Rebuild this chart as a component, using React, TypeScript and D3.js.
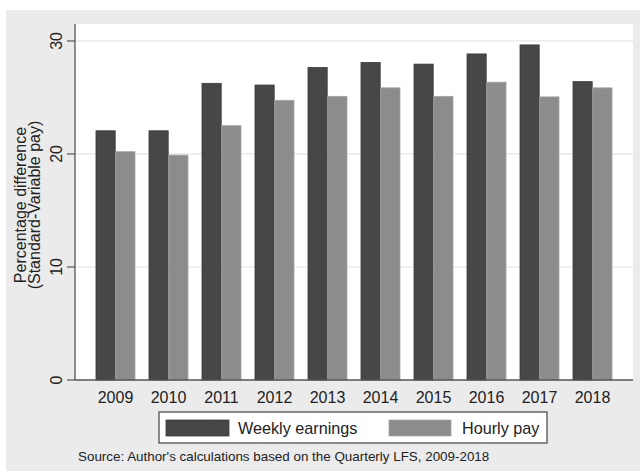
import React from "react";
import * as d3 from "d3";

const years = ["2009", "2010", "2011", "2012", "2013", "2014", "2015", "2016", "2017", "2018"];
const weeklyEarnings = [22.05, 22.05, 26.25, 26.1, 27.65, 28.1, 27.95, 28.85, 29.65, 26.4];
const hourlyPay = [20.2, 19.9, 22.5, 24.75, 25.1, 25.85, 25.1, 26.35, 25.05, 25.85];
const seriesNames = ["Weekly earnings", "Hourly pay"];
const yTicks = [0, 10, 20, 30];

const W = 640;
const H = 471;
const plot = { left: 75, right: 633, top: 24, bottom: 380 };
const font = "'Liberation Sans', Arial, sans-serif";
const darkFill = "#474747";
const lightFill = "#8c8c8c";

export default function App() {
  const x = d3
    .scaleBand<string>()
    .domain(years)
    .range([plot.left, plot.right])
    .paddingInner(0.264)
    .paddingOuter(0.396);
  const inner = d3.scaleBand<string>().domain(seriesNames).range([0, x.bandwidth()]).paddingInner(0.03);
  const y = d3.scaleLinear().domain([0, 31.5]).range([plot.bottom, plot.top]);

  const series = [
    { name: seriesNames[0], values: weeklyEarnings, fill: darkFill, stroke: "#3a3a3a" },
    { name: seriesNames[1], values: hourlyPay, fill: lightFill, stroke: "#a4a4a4" },
  ];

  return (
    <svg width={W} height={H} style={{ position: "absolute", left: 0, top: 0 }}>
      <rect x={0} y={0} width={W} height={H} fill="#ffffff" />
      <rect x={6} y={10} width={634} height={461} fill="#ebebeb" />
      <rect x={plot.left} y={plot.top} width={plot.right - plot.left} height={plot.bottom - plot.top} fill="#ffffff" />
      {yTicks.filter((t) => t > 0).map((t) => (
        <line key={"g" + t} x1={plot.left} x2={plot.right} y1={y(t)} y2={y(t)} stroke="#e6e6e6" strokeWidth={1.2} />
      ))}
      {series.map((s) =>
        years.map((yr, i) => (
          <rect
            key={s.name + yr}
            x={(x(yr) as number) + (inner(s.name) as number)}
            y={y(s.values[i])}
            width={inner.bandwidth()}
            height={y(0) - y(s.values[i])}
            fill={s.fill}
            stroke={s.stroke}
            strokeWidth={0.8}
          />
        ))
      )}
      <line x1={plot.left} x2={plot.left} y1={plot.top} y2={plot.bottom} stroke="#555" strokeWidth={1.3} />
      <line x1={plot.left} x2={plot.right} y1={plot.bottom} y2={plot.bottom} stroke="#555" strokeWidth={1.3} />
      {yTicks.map((t) => (
        <g key={"t" + t}>
          <line x1={plot.left - 8} x2={plot.left} y1={y(t)} y2={y(t)} stroke="#555" strokeWidth={1.2} />
          <text
            transform={`translate(${plot.left - 13},${y(t)}) rotate(-90)`}
            textAnchor="middle"
            fontFamily={font}
            fontSize={16}
            fill="#222"
          >
            {t}
          </text>
        </g>
      ))}
      <text
        transform={`translate(26,${(plot.top + plot.bottom) / 2 + 3}) rotate(-90)`}
        textAnchor="middle"
        fontFamily={font}
        fontSize={16}
        fill="#222"
      >
        <tspan x={0} dy={0}>Percentage difference</tspan>
        <tspan x={0} dy={14}>(Standard-Variable pay)</tspan>
      </text>
      {years.map((yr) => (
        <text
          key={"x" + yr}
          x={(x(yr) as number) + x.bandwidth() / 2}
          y={403}
          textAnchor="middle"
          fontFamily={font}
          fontSize={16}
          fill="#222"
        >
          {yr}
        </text>
      ))}
      <rect x={159} y={412} width={388} height={31} fill="#fff" stroke="#444" strokeWidth={1.2} />
      <rect x={166} y={420} width={63} height={16} fill={darkFill} stroke="#3a3a3a" strokeWidth={0.8} />
      <text x={238} y={434} fontFamily={font} fontSize={16.2} fill="#222">{seriesNames[0]}</text>
      <rect x={389} y={420} width={62} height={16} fill={lightFill} stroke="#a4a4a4" strokeWidth={0.8} />
      <text x={462} y={434} fontFamily={font} fontSize={16.2} fill="#222">{seriesNames[1]}</text>
      <text x={78} y={461} fontFamily={font} fontSize={13.4} fill="#222">
        Source: Author's calculations based on the Quarterly LFS, 2009-2018
      </text>
    </svg>
  );
}
